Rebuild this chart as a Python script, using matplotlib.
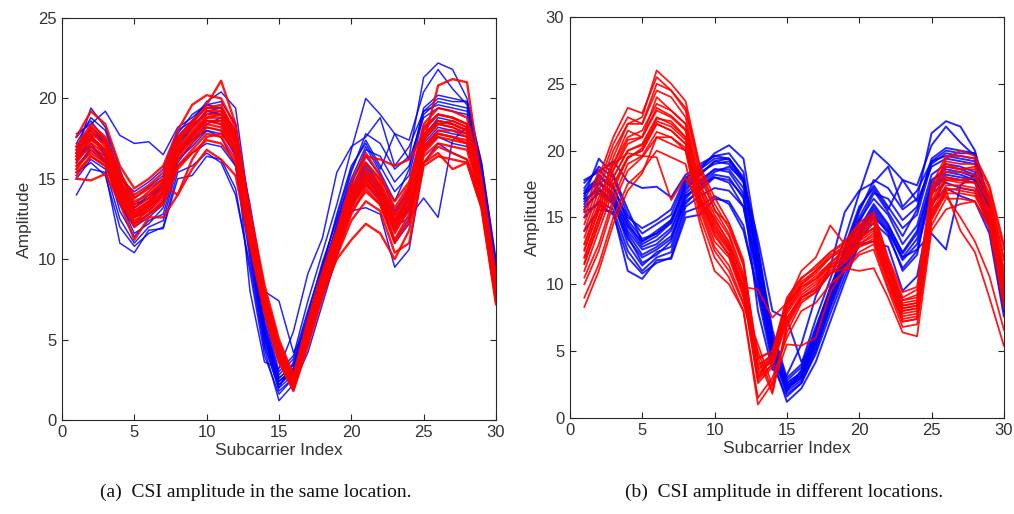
import numpy as np
import matplotlib
matplotlib.use("Agg")
import matplotlib.pyplot as plt

# subcarrier index
subcarriers = list(range(1, 31))

# blue group (same in both panels)
blue_1 = [16.0, 17.5, 16.8, 14.3, 12.8, 13.3, 14.2, 16.8, 17.8, 18.6, 18.6, 17.2, 11.0, 5.5, 2.4, 3.2, 6.0, 9.0, 11.8, 14.2, 16.0, 14.5, 12.3, 13.8, 17.8, 18.6, 18.4, 18.0, 14.8, 8.8]
blue_2 = [17.2, 18.8, 18.0, 15.2, 13.8, 14.5, 15.2, 17.8, 19.0, 19.6, 19.8, 18.4, 12.2, 6.2, 2.8, 3.8, 6.8, 9.6, 12.6, 15.6, 17.4, 15.8, 14.2, 15.2, 19.0, 19.8, 19.6, 19.4, 15.8, 9.6]
blue_3 = [15.0, 16.2, 15.6, 12.5, 11.0, 12.0, 12.4, 15.8, 16.6, 17.2, 17.0, 15.8, 10.0, 4.6, 2.0, 2.8, 5.2, 8.2, 11.0, 13.4, 14.6, 13.6, 11.2, 12.5, 16.8, 17.6, 17.2, 17.0, 14.2, 8.0]
blue_4 = [17.8, 18.4, 19.2, 17.7, 17.2, 17.3, 16.5, 18.2, 18.8, 19.6, 19.4, 18.0, 11.6, 5.8, 2.6, 3.4, 6.2, 9.4, 12.0, 14.8, 16.4, 15.2, 13.0, 14.4, 18.2, 19.0, 18.8, 18.4, 15.0, 9.0]
blue_5 = [14.0, 15.6, 15.4, 11.0, 10.4, 11.8, 11.9, 15.0, 15.2, 16.4, 16.2, 14.4, 9.2, 4.0, 1.6, 2.6, 4.8, 7.8, 10.6, 13.2, 15.0, 14.0, 11.8, 13.0, 17.0, 18.0, 17.8, 17.6, 14.6, 8.4]
blue_6 = [16.6, 19.4, 18.2, 15.6, 13.2, 14.0, 14.8, 17.4, 18.4, 19.0, 19.2, 17.8, 12.6, 6.6, 3.0, 4.0, 7.4, 10.4, 13.4, 16.8, 20.0, 19.0, 17.8, 17.4, 20.4, 21.8, 20.6, 19.6, 15.6, 9.4]
blue_7 = [16.4, 18.2, 17.2, 14.8, 13.4, 13.8, 14.6, 17.0, 18.2, 19.2, 19.0, 17.6, 11.8, 5.6, 2.2, 3.0, 5.8, 9.0, 12.2, 15.4, 17.8, 17.2, 15.6, 16.4, 21.3, 22.2, 21.8, 20.0, 16.0, 9.8]
blue_8 = [15.6, 17.0, 16.4, 13.8, 12.2, 12.8, 13.6, 16.2, 17.0, 18.0, 17.8, 16.6, 10.6, 5.0, 2.2, 3.0, 5.6, 8.6, 11.4, 13.8, 15.6, 14.2, 12.0, 12.6, 13.8, 12.6, 17.4, 18.2, 14.6, 8.6]
blue_9 = [16.8, 17.8, 16.4, 14.0, 12.6, 13.0, 14.0, 16.6, 17.4, 18.4, 18.8, 17.8, 13.4, 8.0, 7.4, 4.2, 5.6, 8.8, 11.6, 14.0, 15.8, 14.4, 12.4, 14.0, 17.4, 18.4, 18.2, 17.8, 14.6, 8.6]
blue_10 = [16.2, 17.2, 16.0, 13.6, 11.6, 12.2, 13.2, 16.4, 17.6, 18.6, 18.4, 16.8, 8.0, 3.6, 3.2, 5.5, 9.1, 11.3, 15.4, 17.0, 17.6, 18.8, 15.8, 17.0, 19.2, 20.0, 19.8, 19.8, 16.0, 10.0]
blue_11 = [15.4, 16.0, 15.2, 12.0, 10.8, 11.6, 12.0, 15.4, 15.8, 16.6, 16.0, 14.0, 9.6, 4.4, 1.2, 2.2, 4.2, 7.2, 10.2, 13.0, 13.2, 12.8, 9.5, 10.6, 16.0, 17.2, 16.6, 16.2, 13.8, 7.6]
blue_12 = [17.6, 18.6, 17.4, 14.6, 13.0, 13.6, 14.6, 17.6, 18.6, 19.4, 19.4, 17.8, 11.4, 5.2, 2.0, 3.6, 6.6, 9.8, 12.4, 15.0, 17.0, 15.4, 13.6, 15.6, 19.4, 20.2, 20.0, 19.8, 15.6, 9.4]
blue_13 = [16.4, 17.0, 16.2, 13.0, 11.4, 12.4, 12.8, 16.0, 17.2, 18.2, 18.0, 16.4, 10.4, 4.8, 1.8, 2.6, 5.0, 8.4, 11.2, 13.6, 15.2, 13.8, 11.0, 12.2, 17.6, 18.8, 18.6, 18.2, 14.4, 8.2]
blue_14 = [17.0, 18.0, 17.2, 15.0, 14.2, 14.8, 15.6, 18.0, 18.6, 19.8, 20.4, 19.4, 12.8, 6.0, 2.6, 3.4, 6.4, 9.2, 12.0, 14.6, 16.8, 16.4, 14.8, 15.8, 19.2, 19.6, 19.4, 19.2, 15.4, 9.2]
blue_15 = [15.8, 16.8, 16.0, 13.4, 12.0, 12.6, 13.4, 16.6, 17.4, 18.0, 17.6, 15.8, 10.8, 5.2, 2.4, 3.0, 5.4, 8.8, 11.6, 13.8, 15.4, 14.0, 12.0, 13.4, 17.2, 18.2, 18.0, 17.8, 14.4, 8.6]
blue_16 = [16.8, 17.6, 16.6, 14.4, 13.2, 13.8, 14.8, 17.2, 18.2, 19.2, 19.4, 17.8, 11.6, 5.4, 2.4, 3.2, 6.0, 9.4, 12.8, 15.8, 17.2, 15.6, 17.8, 16.2, 18.8, 19.4, 19.2, 19.0, 15.2, 9.0]

# red group, same location (a)
red_a_1 = [16.0, 17.2, 16.6, 14.6, 12.8, 13.6, 14.4, 16.6, 17.6, 18.6, 18.6, 17.0, 12.0, 7.6, 4.2, 2.2, 5.4, 8.4, 11.0, 13.6, 15.0, 14.0, 12.2, 13.6, 17.0, 18.0, 18.0, 17.6, 14.0, 8.0]
red_a_2 = [17.0, 18.4, 17.6, 15.4, 13.8, 14.4, 15.0, 17.4, 18.6, 19.4, 19.6, 17.8, 12.6, 8.0, 4.6, 2.6, 5.8, 8.8, 11.6, 14.4, 16.0, 15.0, 13.6, 14.8, 18.0, 19.0, 18.8, 18.4, 14.6, 8.6]
red_a_3 = [15.2, 16.4, 15.8, 13.8, 12.0, 12.8, 13.6, 15.8, 16.8, 17.8, 17.6, 16.2, 11.4, 7.0, 3.8, 2.0, 5.0, 8.0, 10.6, 13.0, 14.2, 13.4, 11.2, 12.8, 16.4, 17.2, 17.0, 16.8, 13.6, 7.6]
red_a_4 = [15.0, 14.9, 15.3, 13.5, 11.2, 12.6, 12.6, 14.0, 15.6, 16.8, 16.2, 15.2, 10.8, 6.6, 3.6, 1.8, 4.6, 7.6, 10.2, 12.4, 13.6, 13.0, 10.4, 11.0, 15.8, 16.4, 16.2, 16.0, 13.2, 7.4]
red_a_5 = [16.6, 18.0, 17.0, 14.8, 13.2, 13.8, 14.8, 17.2, 18.4, 19.6, 21.1, 18.4, 12.4, 7.8, 4.4, 2.4, 5.6, 8.6, 11.2, 14.0, 15.4, 14.4, 12.6, 14.2, 17.6, 18.6, 18.4, 18.0, 14.2, 8.2]
red_a_6 = [16.4, 17.6, 16.8, 14.4, 12.6, 13.4, 14.2, 16.8, 17.8, 18.8, 18.8, 17.2, 12.0, 7.4, 4.0, 2.2, 5.4, 8.4, 11.0, 13.6, 15.2, 14.4, 12.0, 13.8, 17.2, 20.8, 21.2, 21.0, 14.8, 8.4]
red_a_7 = [15.6, 16.8, 16.2, 14.0, 12.4, 13.0, 13.8, 16.2, 17.2, 18.2, 18.0, 16.6, 11.6, 7.2, 3.8, 2.0, 5.0, 7.8, 10.0, 11.2, 12.2, 11.6, 10.0, 11.8, 16.0, 17.0, 16.6, 16.2, 13.4, 7.6]
red_a_8 = [16.8, 17.6, 16.8, 14.8, 13.4, 14.2, 15.0, 16.6, 17.8, 18.8, 19.0, 17.4, 12.2, 7.6, 4.2, 2.4, 5.8, 8.8, 11.4, 14.2, 16.4, 16.2, 15.8, 16.2, 17.8, 18.4, 18.6, 18.2, 14.4, 8.4]
red_a_9 = [17.6, 19.2, 18.4, 15.8, 14.4, 15.0, 15.8, 18.0, 19.6, 20.2, 20.0, 18.2, 13.0, 8.4, 5.0, 2.8, 6.2, 9.2, 11.8, 14.8, 16.6, 15.2, 13.2, 14.6, 18.4, 19.4, 19.2, 18.8, 15.0, 9.0]
red_a_10 = [15.8, 16.6, 16.0, 14.2, 12.2, 13.2, 14.0, 16.4, 17.4, 18.4, 18.2, 16.8, 11.8, 7.2, 4.0, 2.2, 5.2, 8.2, 10.8, 13.4, 14.8, 13.6, 11.6, 13.2, 16.6, 17.6, 17.4, 17.2, 13.8, 7.8]
red_a_11 = [16.2, 17.0, 16.4, 14.2, 12.8, 13.4, 14.6, 14.0, 16.2, 17.6, 17.8, 16.8, 11.6, 7.4, 4.0, 2.2, 5.2, 8.2, 10.8, 13.2, 14.6, 13.8, 12.0, 13.4, 16.8, 17.8, 17.6, 17.2, 14.0, 8.0]
red_a_12 = [16.6, 18.2, 17.4, 15.0, 13.6, 14.0, 14.8, 17.4, 18.2, 19.2, 19.2, 17.6, 12.4, 7.8, 4.4, 2.4, 5.6, 8.6, 11.4, 14.0, 15.6, 14.6, 12.8, 14.2, 17.6, 18.6, 18.4, 18.0, 14.4, 8.4]
red_a_13 = [15.4, 16.4, 15.8, 13.6, 12.2, 12.8, 13.4, 15.6, 16.6, 17.4, 17.2, 16.0, 11.2, 7.0, 3.6, 1.9, 4.8, 7.8, 10.4, 12.8, 14.4, 13.4, 11.0, 12.4, 16.0, 16.6, 15.6, 16.0, 13.2, 7.2]
red_a_14 = [16.2, 17.8, 17.2, 14.8, 13.0, 13.6, 14.4, 17.0, 18.0, 19.0, 19.0, 17.4, 12.2, 7.8, 4.2, 2.3, 5.4, 8.4, 11.2, 13.8, 15.2, 14.2, 12.4, 13.8, 17.4, 18.4, 18.2, 17.8, 14.2, 8.2]
red_a_15 = [16.4, 17.4, 16.8, 14.4, 12.6, 13.2, 14.2, 16.8, 17.8, 18.6, 18.4, 16.8, 11.8, 7.4, 4.0, 2.2, 5.2, 8.4, 11.0, 13.6, 14.8, 13.8, 11.8, 13.2, 17.0, 17.8, 17.6, 17.4, 13.8, 7.8]
red_a_16 = [17.0, 18.2, 17.4, 15.2, 14.0, 14.6, 15.4, 17.6, 18.6, 19.4, 19.4, 17.8, 12.6, 8.0, 4.8, 2.6, 6.0, 9.0, 11.6, 14.4, 16.0, 14.8, 12.8, 14.4, 18.2, 19.0, 18.8, 18.4, 14.6, 8.6]

# red group, different location (b)
red_b_1 = [12.0, 15.0, 18.0, 20.0, 20.5, 22.5, 22.0, 21.0, 16.5, 14.0, 12.5, 9.5, 3.0, 4.0, 7.5, 9.0, 9.8, 11.2, 12.0, 13.2, 14.0, 10.5, 8.0, 8.2, 15.8, 17.8, 17.8, 17.6, 15.5, 10.0]
red_b_2 = [14.5, 17.5, 20.5, 22.5, 22.0, 25.0, 24.5, 23.0, 18.5, 15.5, 14.5, 11.5, 4.5, 5.0, 9.0, 10.5, 11.2, 12.4, 13.0, 14.4, 15.2, 11.8, 9.0, 9.6, 17.0, 19.2, 19.0, 19.0, 16.8, 12.0]
red_b_3 = [9.0, 11.5, 15.0, 17.5, 18.5, 20.0, 19.5, 19.0, 14.5, 11.0, 10.0, 8.0, 1.5, 3.0, 6.0, 8.0, 8.6, 10.0, 11.0, 12.2, 12.6, 9.6, 6.8, 7.0, 14.4, 16.4, 16.4, 16.2, 14.4, 8.6]
red_b_4 = [13.0, 16.0, 19.5, 22.0, 22.5, 26.0, 25.0, 23.7, 18.8, 16.5, 14.6, 11.8, 4.0, 4.6, 8.6, 10.2, 11.0, 12.0, 12.8, 14.0, 15.0, 11.2, 8.6, 8.8, 16.6, 19.0, 18.6, 18.8, 16.4, 11.2]
red_b_5 = [15.5, 18.5, 19.0, 19.8, 19.6, 19.5, 16.3, 18.0, 16.0, 15.0, 13.0, 10.5, 3.6, 4.4, 8.0, 9.6, 10.4, 11.6, 12.6, 13.8, 14.6, 11.0, 8.4, 8.6, 16.0, 18.0, 17.8, 18.0, 16.0, 10.8]
red_b_6 = [8.3, 11.0, 14.5, 17.0, 18.3, 21.0, 21.0, 20.0, 15.0, 12.0, 10.5, 8.0, 1.0, 2.6, 6.4, 8.6, 9.4, 10.8, 11.6, 12.8, 13.4, 10.2, 7.4, 7.6, 15.0, 17.2, 17.0, 16.8, 14.8, 9.4]
red_b_7 = [11.0, 14.0, 17.0, 19.5, 20.0, 22.0, 21.5, 20.5, 16.0, 13.2, 12.0, 9.0, 5.0, 2.0, 7.0, 9.0, 9.6, 11.0, 11.8, 13.0, 13.8, 10.4, 7.6, 7.8, 15.4, 17.4, 17.4, 17.2, 15.2, 9.6]
red_b_8 = [13.5, 16.5, 19.0, 21.5, 21.0, 24.0, 23.0, 22.0, 17.5, 15.2, 13.6, 10.4, 3.4, 4.2, 8.0, 9.8, 10.6, 11.6, 12.4, 13.6, 14.6, 11.2, 8.2, 8.4, 16.2, 18.4, 18.4, 18.2, 16.2, 10.6]
red_b_9 = [12.5, 15.5, 18.5, 20.5, 21.0, 23.0, 22.5, 21.5, 17.0, 14.6, 12.8, 9.8, 9.6, 7.5, 8.6, 9.8, 10.4, 11.4, 12.2, 13.4, 14.2, 11.0, 8.0, 8.2, 15.8, 18.0, 17.8, 17.6, 15.6, 10.0]
red_b_10 = [10.0, 12.5, 16.0, 18.5, 19.5, 21.0, 20.5, 20.0, 15.5, 12.5, 11.0, 8.5, 5.5, 2.4, 5.5, 5.4, 6.0, 9.4, 11.2, 12.4, 13.0, 9.8, 7.2, 7.4, 14.8, 16.8, 16.8, 16.6, 14.6, 9.0]
red_b_11 = [12.0, 15.0, 18.0, 20.0, 20.4, 22.4, 22.2, 21.0, 16.6, 14.2, 12.6, 9.6, 3.0, 4.6, 8.6, 11.0, 12.0, 14.4, 13.0, 13.6, 14.2, 10.6, 8.2, 8.4, 15.8, 17.8, 17.6, 17.6, 15.4, 10.0]
red_b_12 = [11.5, 14.5, 17.5, 19.5, 20.0, 22.0, 21.5, 20.5, 16.2, 13.6, 12.2, 9.2, 2.8, 4.0, 7.4, 9.2, 10.0, 11.2, 12.0, 13.0, 13.6, 10.4, 7.8, 8.0, 15.2, 17.0, 14.0, 12.4, 9.0, 5.4]
red_b_13 = [12.6, 15.6, 18.6, 20.8, 21.0, 23.2, 22.6, 21.6, 17.0, 14.4, 12.8, 9.8, 3.2, 4.4, 7.8, 9.4, 10.2, 11.4, 12.2, 13.4, 14.2, 11.0, 8.4, 8.6, 15.6, 16.6, 15.0, 13.2, 10.6, 6.6]
red_b_14 = [14.0, 17.0, 20.0, 22.0, 22.0, 24.5, 24.0, 22.5, 18.0, 15.6, 13.8, 10.8, 3.8, 4.8, 8.4, 10.0, 10.8, 12.0, 12.6, 14.0, 14.8, 11.4, 8.8, 9.0, 16.8, 18.8, 18.6, 18.6, 16.6, 11.8]
red_b_15 = [15.0, 18.0, 21.0, 23.2, 22.8, 25.5, 24.5, 23.2, 18.6, 16.0, 14.2, 11.4, 4.4, 5.0, 8.8, 10.4, 11.4, 12.4, 13.2, 14.6, 15.4, 12.0, 9.4, 9.8, 17.4, 19.6, 19.6, 19.4, 17.2, 12.6]
red_b_16 = [10.5, 13.0, 16.4, 19.0, 19.6, 21.4, 21.0, 20.2, 15.8, 12.8, 11.4, 8.6, 4.5, 1.8, 6.8, 8.8, 9.4, 10.8, 11.6, 12.8, 13.2, 10.2, 7.2, 7.4, 15.0, 17.0, 17.2, 17.0, 15.0, 9.4]
red_b_17 = [11.6, 14.6, 17.4, 19.4, 20.2, 22.2, 21.8, 20.8, 16.4, 13.8, 12.2, 9.4, 2.6, 3.8, 7.2, 9.0, 9.6, 10.8, 11.2, 11.0, 11.2, 9.0, 6.4, 6.1, 14.0, 15.6, 16.0, 16.2, 14.2, 8.2]
red_b_18 = [13.0, 16.0, 19.0, 21.0, 21.5, 23.5, 23.0, 22.0, 17.4, 14.8, 13.2, 10.2, 3.6, 4.6, 8.2, 10.0, 11.0, 12.2, 12.8, 14.2, 15.0, 11.6, 8.8, 9.2, 16.6, 19.4, 20.0, 19.6, 17.4, 13.0]

blue_curves = [blue_1, blue_2, blue_3, blue_4, blue_5, blue_6, blue_7, blue_8,
               blue_9, blue_10, blue_11, blue_12, blue_13, blue_14, blue_15, blue_16]
red_a_curves = [red_a_1, red_a_2, red_a_3, red_a_4, red_a_5, red_a_6, red_a_7, red_a_8,
                red_a_9, red_a_10, red_a_11, red_a_12, red_a_13, red_a_14, red_a_15, red_a_16]
red_b_curves = [red_b_1, red_b_2, red_b_3, red_b_4, red_b_5, red_b_6, red_b_7, red_b_8, red_b_9,
                red_b_10, red_b_11, red_b_12, red_b_13, red_b_14, red_b_15, red_b_16, red_b_17, red_b_18]

captions = ["(a)  CSI amplitude in the same location.", "(b)  CSI amplitude in different locations."]

plt.rcParams["font.family"] = ["Liberation Sans", "DejaVu Sans"]
text_color = "#333333"

fig = plt.figure(figsize=(10.14, 5.14), dpi=100)
ax_a = fig.add_axes([0.0611, 0.183, 0.428, 0.782])
ax_b = fig.add_axes([0.562, 0.187, 0.428, 0.780])


def setup(ax, ymax):
    ax.set_xlim(0, 30)
    ax.set_ylim(0, ymax)
    ax.set_xticks([0, 5, 10, 15, 20, 25, 30])
    ax.set_yticks(np.arange(0, ymax + 1, 5))
    ax.tick_params(direction="in", top=True, right=True, length=4, width=0.8,
                   labelsize=12, colors="#262626", labelcolor=text_color, pad=4)
    for s in ax.spines.values():
        s.set_color("#262626")
        s.set_linewidth(0.8)
    ax.set_xlabel("Subcarrier Index", fontsize=12.5, color=text_color, labelpad=2)
    ax.set_ylabel("Amplitude", fontsize=12.5, color=text_color, labelpad=4)


for c in blue_curves:
    ax_a.plot(subcarriers, c, color="#0000ff", lw=1.1, alpha=0.85)
for c in red_a_curves:
    ax_a.plot(subcarriers, c, color="#ff0000", lw=1.7, alpha=0.9)
setup(ax_a, 25)

for c in blue_curves:
    ax_b.plot(subcarriers, c, color="#0000ff", lw=1.4, alpha=0.85)
for c in red_b_curves:
    ax_b.plot(subcarriers, c, color="#ff0000", lw=1.3, alpha=0.9)
setup(ax_b, 30)

fig.text(0.252, 0.043, captions[0], ha="center", va="center", fontsize=14,
         family=["Liberation Serif", "DejaVu Serif"], color="#111111")
fig.text(0.773, 0.043, captions[1], ha="center", va="center", fontsize=14,
         family=["Liberation Serif", "DejaVu Serif"], color="#111111")

fig.savefig("out.png", dpi=100)
